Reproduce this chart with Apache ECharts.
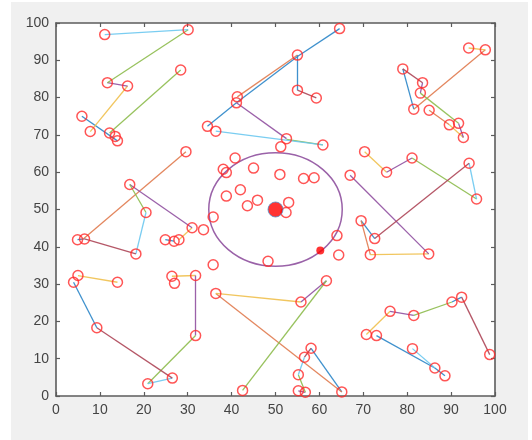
<!DOCTYPE html>
<html>
<head>
<meta charset="utf-8">
<script src="https://cdn.jsdelivr.net/npm/echarts@6/dist/echarts.min.js"></script>
<style>
  html, body { margin: 0; padding: 0; background: #fff; }
  #panel { position: absolute; left: 11px; top: 2px; width: 517px; height: 438px; background: #f0f0f0; }
  #chart { position: absolute; left: 0; top: 0; width: 532px; height: 440px; }
</style>
</head>
<body>
<div id="panel"></div>
<div id="chart"></div>
<script>
// random points (red open circles)
const points = [
  [11.1, 96.9], [30.1, 98.2], [11.7, 84.0], [16.3, 83.1], [28.4, 87.4], [5.9, 75.0], [7.8, 70.9], [12.2, 70.5], [13.5, 69.6], [14.0, 68.4],
  [29.6, 65.5], [16.8, 56.7], [20.5, 49.2], [18.2, 38.1], [4.9, 41.9], [6.5, 42.1], [31.0, 45.1], [33.6, 44.6], [24.9, 41.9], [26.9, 41.5], [28.0, 41.9],
  [5.0, 32.3], [4.0, 30.5], [14.0, 30.5], [9.3, 18.3], [26.5, 4.8], [20.9, 3.3], [26.4, 32.1], [27.0, 30.2], [31.8, 32.3], [31.8, 16.2],
  [36.4, 27.5], [55.8, 25.2], [61.6, 30.9], [42.5, 1.5], [65.1, 1.1], [58.1, 12.8], [56.6, 10.4], [55.2, 5.7], [55.2, 1.4], [56.8, 1.0], [35.8, 35.2],
  [35.8, 48.0], [48.3, 36.1], [51.2, 66.8], [40.8, 63.8], [38.1, 60.8], [38.8, 59.9], [45.0, 61.1], [51.0, 59.4], [56.4, 58.3], [58.8, 58.5],
  [38.8, 53.6], [42.0, 55.3], [43.6, 51.0], [45.9, 52.5], [53.0, 51.9], [52.4, 49.2], [64.0, 43.0], [64.4, 37.8],
  [34.5, 72.3], [36.4, 71.0], [41.3, 80.2], [41.1, 78.6], [55.0, 91.4], [64.6, 98.5], [55.0, 82.0], [59.3, 79.9], [52.5, 69.0], [60.8, 67.3],
  [94.0, 93.3], [97.8, 92.8], [79.0, 87.7], [83.5, 84.0], [83.0, 81.2], [81.5, 76.9], [85.0, 76.6], [89.6, 72.7], [91.7, 73.1], [92.8, 69.3],
  [70.3, 65.5], [75.3, 60.0], [81.1, 63.8], [94.1, 62.4], [95.8, 52.8], [67.0, 59.2], [69.5, 47.0], [72.6, 42.2], [71.6, 37.9], [84.9, 38.1],
  [76.1, 22.7], [81.5, 21.6], [90.2, 25.2], [92.4, 26.5], [98.8, 11.1], [70.7, 16.5], [73.0, 16.2], [81.2, 12.7], [86.3, 7.5], [88.6, 5.4]
];

// connecting segments, grouped by line colour
const blueSegs = [
  [[5.9, 75.0], [14.0, 68.4]], [[4.9, 41.9], [6.5, 42.1]], [[24.9, 41.9], [26.9, 41.5]], [[4.0, 30.5], [9.3, 18.3]],
  [[65.1, 1.1], [58.1, 12.8]], [[34.5, 72.3], [41.1, 78.6]], [[41.1, 78.6], [55.0, 91.0]], [[55.0, 91.0], [64.6, 98.5]],
  [[55.0, 91.4], [55.0, 82.0]], [[79.0, 87.7], [81.5, 76.9]], [[69.5, 47.0], [72.6, 42.2]], [[73.0, 16.2], [86.3, 7.5]],
  [[86.3, 7.5], [88.6, 5.4]], [[90.2, 25.2], [92.4, 26.5]]
];
const orangeSegs = [
  [[29.6, 65.5], [6.2, 42.1]], [[36.4, 27.5], [65.1, 1.1]], [[41.3, 80.2], [55.0, 91.4]],
  [[97.8, 92.8], [81.5, 76.9]], [[85.0, 76.6], [89.6, 72.7]], [[69.5, 47.0], [71.6, 37.9]]
];
const yellowSegs = [
  [[16.3, 83.1], [7.8, 70.9]], [[28.0, 41.9], [31.0, 45.1]], [[5.0, 32.3], [14.0, 30.5]], [[26.4, 32.1], [31.8, 32.3]],
  [[36.4, 27.5], [55.8, 25.2]], [[94.0, 93.3], [97.8, 92.8]], [[89.6, 72.7], [92.8, 69.3]], [[70.3, 65.5], [75.3, 60.0]],
  [[71.6, 37.9], [84.9, 38.1]], [[70.7, 16.5], [76.1, 22.7]]
];
const purpleSegs = [
  [[11.7, 84.0], [16.3, 83.1]], [[16.8, 56.7], [31.0, 45.1]], [[31.8, 16.2], [31.8, 32.3]], [[55.8, 25.2], [61.6, 30.9]],
  [[55.2, 1.4], [56.8, 1.0]], [[41.1, 78.6], [52.5, 69.0]], [[83.5, 84.0], [83.0, 81.2]], [[91.7, 73.1], [92.8, 69.3]],
  [[75.3, 60.0], [81.1, 63.8]], [[67.0, 59.2], [84.9, 38.1]], [[76.1, 22.7], [81.5, 21.6]]
];
const greenSegs = [
  [[30.1, 98.2], [11.7, 84.0]], [[28.4, 87.4], [12.2, 70.5]], [[16.8, 56.7], [20.5, 49.2]], [[20.9, 3.3], [31.8, 16.2]],
  [[61.6, 30.9], [42.5, 1.5]], [[55.2, 5.7], [56.8, 1.0]], [[52.5, 68.8], [60.8, 67.3]], [[83.0, 81.2], [91.7, 73.1]],
  [[81.1, 63.8], [95.8, 52.8]], [[81.5, 21.6], [90.2, 25.2]]
];
const lightBlueSegs = [
  [[11.1, 96.9], [30.1, 98.2]], [[20.5, 49.2], [18.2, 38.1]], [[26.5, 4.8], [20.9, 3.3]], [[56.6, 10.4], [55.2, 5.7]],
  [[36.4, 71.0], [60.8, 67.3]], [[94.1, 62.4], [95.8, 52.8]], [[81.2, 12.7], [86.3, 7.5]]
];
const darkRedSegs = [
  [[18.2, 38.1], [6.5, 42.1]], [[9.3, 18.3], [26.5, 4.8]], [[58.1, 12.8], [56.6, 10.4]], [[55.0, 82.0], [59.3, 79.9]],
  [[79.0, 87.7], [83.5, 84.0]], [[94.1, 62.4], [72.6, 42.2]], [[92.4, 26.5], [98.8, 11.1]]
];

// centre, marked point and the circle around the centre
const centre = [50, 50];
const marked = [60.2, 39.0];
const ringRadius = 15.2;

const ticks = [0, 10, 20, 30, 40, 50, 60, 70, 80, 90, 100];

const axisGray = '#5c5c5c';
const labelGray = '#444444';

function segSeries(segs, color) {
  return {
    type: 'lines',
    coordinateSystem: 'cartesian2d',
    silent: true,
    lineStyle: { color: color, width: 1.3, opacity: 0.9 },
    data: segs.map(s => ({ coords: s }))
  };
}

function makeAxis(pos, showLabel) {
  return {
    type: 'value',
    position: pos,
    min: ticks[0],
    max: ticks[ticks.length - 1],
    interval: 10,
    axisLine: { show: true, onZero: false, lineStyle: { color: axisGray, width: 1.6 } },
    axisTick: { show: true, inside: true, length: 4, lineStyle: { color: axisGray, width: 1.2 } },
    axisLabel: {
      show: showLabel,
      color: labelGray,
      fontFamily: 'Liberation Sans, Arial, sans-serif',
      fontSize: 14,
      margin: 7
    },
    splitLine: { show: false }
  };
}

const chart = echarts.init(document.getElementById('chart'));
chart.setOption({
  animation: false,
  backgroundColor: 'transparent',
  grid: {
    left: 56, right: 37, top: 23, bottom: 44,
    show: true, backgroundColor: '#ffffff', borderWidth: 0
  },
  xAxis: [makeAxis('bottom', true), makeAxis('top', false)],
  yAxis: [makeAxis('left', true), makeAxis('right', false)],
  series: [
    segSeries(blueSegs, '#2a85c8'),
    segSeries(orangeSegs, '#e07a4e'),
    segSeries(yellowSegs, '#efc04e'),
    segSeries(purpleSegs, '#9050a0'),
    segSeries(greenSegs, '#8dbb4c'),
    segSeries(lightBlueSegs, '#6cc8ef'),
    segSeries(darkRedSegs, '#ad4556'),
    {
      type: 'custom',
      silent: true,
      data: [centre],
      renderItem: (params, api) => {
        const c = api.coord([api.value(0), api.value(1)]);
        const s = api.size([ringRadius, ringRadius]);
        return {
          type: 'ellipse',
          shape: { cx: c[0], cy: c[1], rx: s[0], ry: s[1] },
          style: { fill: null, stroke: '#9a62a8', lineWidth: 1.5 }
        };
      }
    },
    {
      type: 'scatter',
      data: points,
      symbol: 'circle',
      symbolSize: 10,
      silent: true,
      itemStyle: { color: 'rgba(0,0,0,0)', borderColor: '#ff2a2a', borderWidth: 1.5 }
    },
    {
      type: 'scatter',
      data: [marked],
      symbolSize: 8,
      silent: true,
      itemStyle: { color: '#ff0000' }
    },
    {
      type: 'scatter',
      data: [centre],
      symbolSize: 15,
      silent: true,
      itemStyle: { color: '#ff0000', borderColor: '#4f8fc8', borderWidth: 1 }
    }
  ]
});
</script>
</body>
</html>
